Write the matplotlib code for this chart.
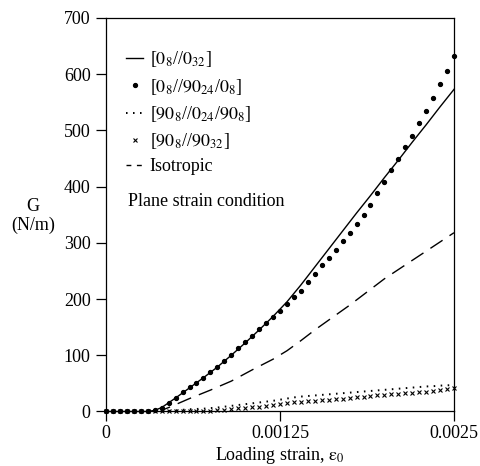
import numpy as np
import matplotlib
matplotlib.use("Agg")
import matplotlib.pyplot as plt

plt.rcParams['font.family'] = ['Liberation Serif', 'DejaVu Serif']
plt.rcParams['mathtext.fontset'] = 'stix'

# ---- data ----
# regular strain grid (step 0.00005) used for the marker series
strain_grid = np.linspace(0.0, 0.0025, 51)

# [0_8//90_24/0_8]  (filled dots)
g_dots = [0, 0, 0, 0, 0, 0, 0, 3, 6, 15,
          24, 34, 43, 51, 60, 70, 80, 90, 101, 113,
          124, 135, 146, 157, 168, 179, 192, 204, 215, 230,
          245, 260, 273, 288, 303, 318, 334, 350, 368, 388,
          408, 430, 450, 470, 490, 513, 535, 558, 582, 606, 632]

# [90_8//0_24/90_8]  (dotted)
g_dotted = [0, 0, 0, 0, 0, 0, 0, 0, 0, 1,
            2, 3, 4, 4.5, 5, 6, 7, 8.5, 10, 11.5,
            13, 14.5, 16, 17.5, 19, 21, 23, 25, 26.5, 27.5,
            28.5, 29.5, 30.5, 31.5, 32.5, 33.5, 34.5, 35.5, 36.5, 37.5,
            38.5, 39.5, 40.5, 41.5, 42.5, 43.5, 44.5, 45, 46, 46.5, 47]

# [90_8//90_32]  (crosses)
g_cross = [0, 0, 0, 0, 0, 0, 0, 0, 0, 0,
           0, 0, 0, 0.5, 1, 1.5, 2.5, 3.5, 4.5, 5.5,
           6.5, 7.5, 8.5, 10, 11.5, 13, 14.5, 16, 17, 18,
           19, 20, 21, 22, 23, 24, 25, 26, 27.5, 28.5,
           29.5, 30.5, 31.5, 32.5, 33.5, 34.5, 35.5, 36.5, 38, 39.5, 41]

# [0_8//0_32]  (solid)
strain_solid = [0, 0.0003, 0.00035, 0.0004, 0.0005, 0.0006, 0.0007, 0.0008, 0.0009,
                0.001, 0.0011, 0.0012, 0.0013, 0.0014, 0.0015, 0.0016, 0.0017,
                0.0018, 0.0019, 0.002, 0.0021, 0.0022, 0.0023, 0.0024, 0.0025]
g_solid = [0, 0, 2, 7, 24, 42, 60, 79, 100,
           122, 145, 169, 195, 225, 257, 289, 321,
           353, 384, 416, 447, 479, 510, 542, 573]

# Isotropic (dashed)
strain_iso = [0.0004, 0.00046, 0.0006, 0.00075, 0.0009, 0.00105, 0.0012, 0.0013,
              0.0014, 0.0015, 0.00175, 0.002, 0.00225, 0.0025]
g_iso = [2, 8, 23, 38, 54, 74, 93, 108, 126, 145, 189, 236, 277, 318]

labels = [r'[$0_8$//$0_{32}$]',
          r'[$0_8$//$90_{24}$/$0_8$]',
          r'[$90_8$//$0_{24}$/$90_8$]',
          r'[$90_8$//$90_{32}$]',
          'Isotropic']

xticks = [0, 0.00125, 0.0025]
xticklabels = ['0', '0.00125', '0.0025']
yticks = [0, 100, 200, 300, 400, 500, 600, 700]

# ---- figure ----
fig = plt.figure(figsize=(4.8, 4.66), dpi=100)
ax = fig.add_axes([0.2208, 0.117, 0.725, 0.8444])

l1, = ax.plot(strain_solid, g_solid, color='black', lw=1.0, label=labels[0])
l2, = ax.plot(strain_grid, g_dots, linestyle='none', marker='o', ms=2.8,
              color='black', label=labels[1])
l3, = ax.plot(strain_grid, g_dotted, color='black', lw=1.4,
              linestyle=(0, (0.8, 2.8)), label=labels[2])
l4, = ax.plot(strain_grid, g_cross, linestyle='none', marker='x', ms=2.8,
              mew=0.8, color='black', label=labels[3])
l5, = ax.plot(strain_iso, g_iso, color='black', lw=1.0,
              linestyle=(4, (10.5, 6)), label=labels[4])

ax.set_xlim(0, 0.0025)
ax.set_ylim(0, 700)
ax.set_xticks(xticks)
ax.set_xticklabels(xticklabels)
ax.set_yticks(yticks)
ax.tick_params(direction='out', length=7, width=0.9, labelsize=13, pad=3)
ax.tick_params(axis='y', pad=4)
for s in ax.spines.values():
    s.set_linewidth(0.9)
for ln in (l1, l2, l3, l4, l5):
    ln.set_clip_on(False)

ax.set_xlabel(r'Loading strain, $\mathrm{\varepsilon}_0$', fontsize=13, labelpad=2)
fig.text(33 / 480, 1 - 216 / 466, 'G\n(N/m)', ha='center', va='center',
         fontsize=13, linespacing=1.15)

leg = ax.legend(loc='upper left', bbox_to_anchor=(0.058, 0.92), frameon=False,
                fontsize=13, handlelength=0.95, handletextpad=0.35,
                labelspacing=0.4, borderpad=0, borderaxespad=0, numpoints=1)
hs = leg.legend_handles
hs[4].set_linestyle((0, (3.5, 4)))

ax.text(128 / 480, 1 - 202 / 466, 'Plane strain condition', transform=fig.transFigure,
        ha='left', va='center', fontsize=13)

fig.savefig('out.png', dpi=100)
